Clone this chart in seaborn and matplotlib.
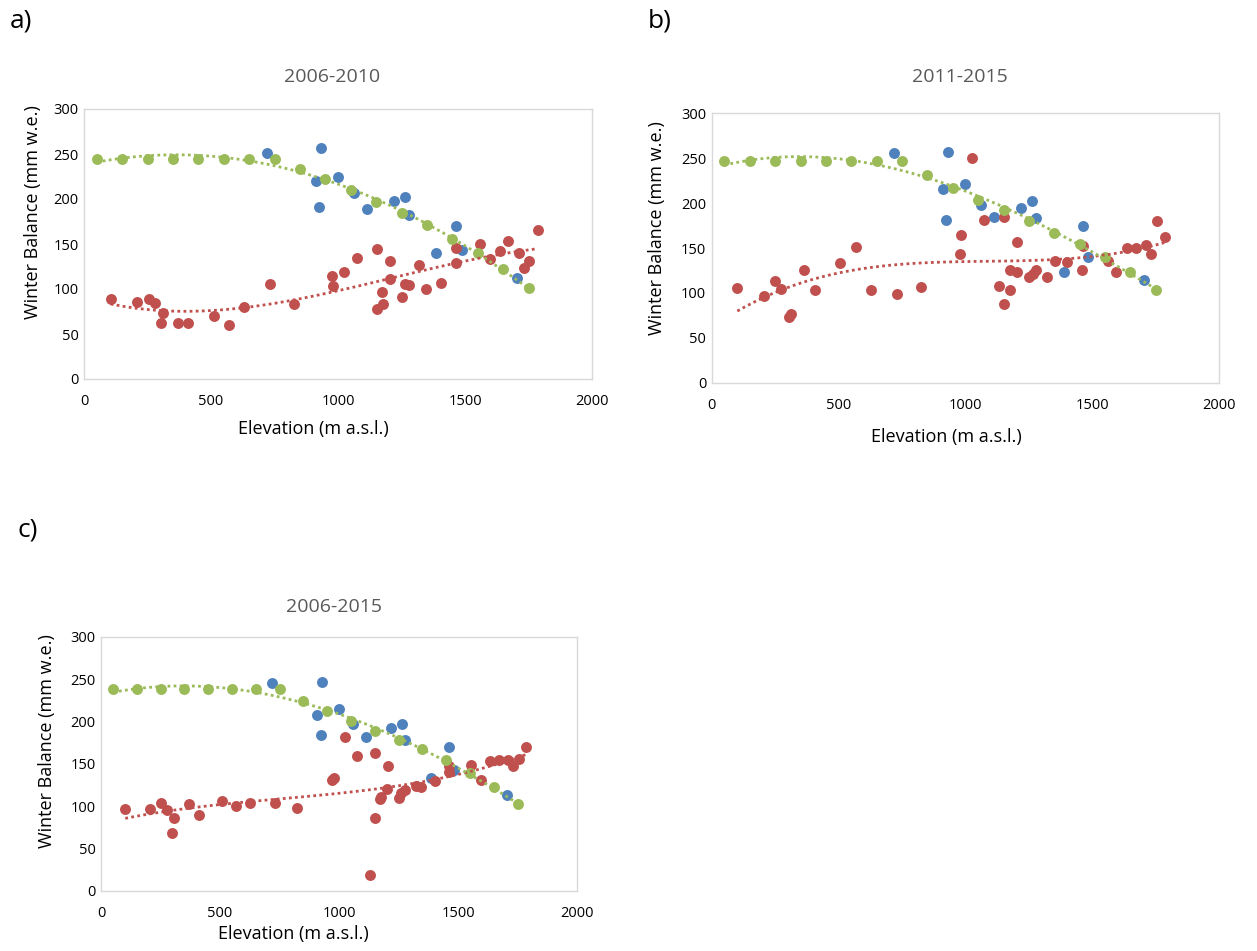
import numpy as np
import pandas as pd
import matplotlib
matplotlib.use("Agg")
import matplotlib.pyplot as plt
import seaborn as sns

# ---------------- data ----------------
# Panel a) 2006-2010
a_green_x = [50, 150, 250, 350, 450, 550, 650, 750, 850, 950, 1050, 1150, 1250, 1350, 1450, 1550, 1650, 1750]
a_green_y = [245, 245, 245, 245, 245, 245, 245, 245, 233, 222, 210, 197, 184, 171, 156, 140, 122, 101]
a_blue_x = [722, 932, 912, 1001, 926, 1063, 1115, 1222, 1264, 1281, 1466, 1385, 1487, 1703]
a_blue_y = [251, 257, 220, 224, 191, 207, 189, 198, 202, 182, 170, 140, 143, 112]
a_red_x = [105, 207, 255, 281, 312, 302, 369, 408, 511, 571, 631, 732, 827, 978, 980, 1024, 1076,
           1155, 1203, 1155, 1176, 1173, 1203, 1265, 1280, 1251, 1318, 1346, 1404, 1463, 1463,
           1559, 1598, 1638, 1669, 1714, 1751, 1732, 1787]
a_red_y = [89, 86, 89, 85, 73, 62, 62, 62, 70, 60, 80, 106, 83, 114, 103, 119, 135,
           145, 131, 78, 83, 97, 111, 106, 104, 91, 127, 100, 107, 146, 129,
           150, 133, 142, 153, 140, 131, 123, 166]

# Panel b) 2011-2015
b_green_x = [50, 150, 250, 350, 450, 550, 650, 750, 850, 950, 1050, 1150, 1250, 1350, 1450, 1550, 1650, 1750]
b_green_y = [247, 247, 247, 247, 247, 247, 247, 247, 231, 217, 204, 192, 180, 167, 154, 140, 123, 103]
b_blue_x = [718, 930, 910, 998, 924, 1061, 1112, 1219, 1262, 1278, 1464, 1388, 1484, 1703]
b_blue_y = [256, 257, 216, 221, 181, 198, 185, 195, 202, 183, 174, 123, 140, 114]
b_red_x = [101, 206, 251, 274, 306, 312, 364, 408, 505, 567, 628, 731, 825, 981, 978, 1026,
           1073, 1152, 1204, 1132, 1175, 1202, 1175, 1153, 1251, 1265, 1278, 1321, 1351, 1401,
           1460, 1462, 1561, 1593, 1635, 1672, 1711, 1732, 1756, 1785]
b_red_y = [105, 97, 113, 104, 73, 76, 125, 103, 133, 151, 103, 99, 107, 164, 143, 250,
           181, 185, 157, 108, 126, 123, 103, 88, 118, 121, 125, 118, 136, 134,
           126, 152, 136, 123, 150, 150, 153, 143, 180, 162]

# Panel c) 2006-2015
c_green_x = [50, 150, 250, 350, 450, 550, 650, 750, 850, 950, 1050, 1150, 1250, 1350, 1450, 1550, 1650, 1750]
c_green_y = [238, 238, 238, 238, 238, 238, 238, 238, 224, 212, 200, 189, 178, 167, 154, 139, 122, 102]
c_blue_x = [718, 929, 909, 999, 924, 1060, 1113, 1218, 1263, 1277, 1464, 1385, 1483, 1705]
c_blue_y = [245, 246, 208, 215, 184, 197, 181, 192, 197, 178, 170, 133, 142, 113]
c_red_x = [102, 207, 252, 277, 308, 298, 368, 410, 507, 569, 627, 732, 824, 972, 980, 1025,
           1074, 1151, 1204, 1171, 1175, 1151, 1132, 1200, 1252, 1261, 1276, 1324, 1343, 1405,
           1462, 1461, 1556, 1597, 1636, 1674, 1711, 1730, 1756, 1784]
c_red_y = [96, 96, 104, 95, 86, 68, 102, 89, 106, 100, 104, 104, 98, 131, 133, 181,
           159, 163, 147, 108, 111, 86, 19, 120, 110, 115, 119, 124, 122, 130,
           140, 147, 148, 131, 153, 154, 154, 147, 156, 170]

titles = ["2006-2010", "2011-2015", "2006-2015"]
panel_labels = ["a)", "b)", "c)"]
x_ticks = [0, 500, 1000, 1500, 2000]
y_ticks = [0, 50, 100, 150, 200, 250, 300]

BLUE = "#4F81BD"
RED = "#C0504D"
GREEN = "#9BBB59"

# ---------------- style ----------------
sns.set_style("white")
plt.rcParams["font.family"] = ["Open Sans", "DejaVu Sans"]

W, H = 1257, 951
fig = plt.figure(figsize=(W / 100, H / 100), dpi=100)

def px_axes(left, top, right, bottom):
    return fig.add_axes([left / W, 1 - bottom / H, (right - left) / W, (bottom - top) / H])

boxes = [(84, 109, 592, 379), (711.7, 113.3, 1219.3, 382.7), (101, 636.7, 577, 890.7)]
panels = [
    (a_blue_x, a_blue_y, a_red_x, a_red_y, a_green_x, a_green_y),
    (b_blue_x, b_blue_y, b_red_x, b_red_y, b_green_x, b_green_y),
    (c_blue_x, c_blue_y, c_red_x, c_red_y, c_green_x, c_green_y),
]
ylab_coords = [(-0.083, 0.62), (-0.091, 0.575), (-0.095, 0.59)]
xlab_coords = [(0.452, -0.152), (0.462, -0.167), (0.405, -0.134)]
title_pos = [(0.488, 1.117), (0.489, 1.135), (0.49, 1.115)]
plab_pos = [(21, 21), (660, 21), (28, 530)]

for i, (box, data) in enumerate(zip(boxes, panels)):
    bx, by, rx, ry, gx, gy = data
    ax = px_axes(*box)
    dfb = pd.DataFrame({"x": bx, "y": by})
    dfr = pd.DataFrame({"x": rx, "y": ry})
    dfg = pd.DataFrame({"x": gx, "y": gy})

    sns.scatterplot(data=dfb, x="x", y="y", ax=ax, color=BLUE, s=62, linewidth=0, zorder=3)
    sns.scatterplot(data=dfr, x="x", y="y", ax=ax, color=RED, s=62, linewidth=0, zorder=3)
    sns.scatterplot(data=dfg, x="x", y="y", ax=ax, color=GREEN, s=62, linewidth=0, zorder=4)
    sns.regplot(data=dfr, x="x", y="y", ax=ax, order=3, scatter=False, ci=None, truncate=True,
                line_kws=dict(color=RED, lw=2.0, ls=(0, (1, 1.2)), zorder=5))
    sns.regplot(data=dfg, x="x", y="y", ax=ax, order=3, scatter=False, ci=None, truncate=True,
                line_kws=dict(color=GREEN, lw=2.0, ls=(0, (1, 1.2)), zorder=5))

    ax.set_xlim(0, 2000)
    ax.set_ylim(0, 300)
    ax.set_xticks(x_ticks)
    ax.set_yticks(y_ticks)
    ax.tick_params(axis="both", length=0, labelsize=10.5, colors="#000000")
    ax.tick_params(axis="x", pad=11)
    ax.tick_params(axis="y", pad=4)
    for sp in ax.spines.values():
        sp.set_visible(True)
        sp.set_color("#D9D9D9")
        sp.set_linewidth(1.0)
    ax.grid(False)

    ax.set_xlabel("Elevation (m a.s.l.)", fontsize=13, color="#000000")
    ax.set_ylabel("Winter Balance (mm w.e.)", fontsize=13, color="#000000")
    ax.xaxis.set_label_coords(*xlab_coords[i])
    ax.yaxis.set_label_coords(*ylab_coords[i])
    ax.xaxis.label.set_va("top")

    tx, ty = title_pos[i]
    ax.text(tx, ty, titles[i], transform=ax.transAxes, ha="center", va="center",
            fontsize=14, color="#595959")

    plx, ply = plab_pos[i]
    fig.text(plx / W, 1 - ply / H, panel_labels[i], ha="center", va="center",
             fontsize=19, color="#000000")

fig.savefig("out.png", dpi=100, facecolor="white")
